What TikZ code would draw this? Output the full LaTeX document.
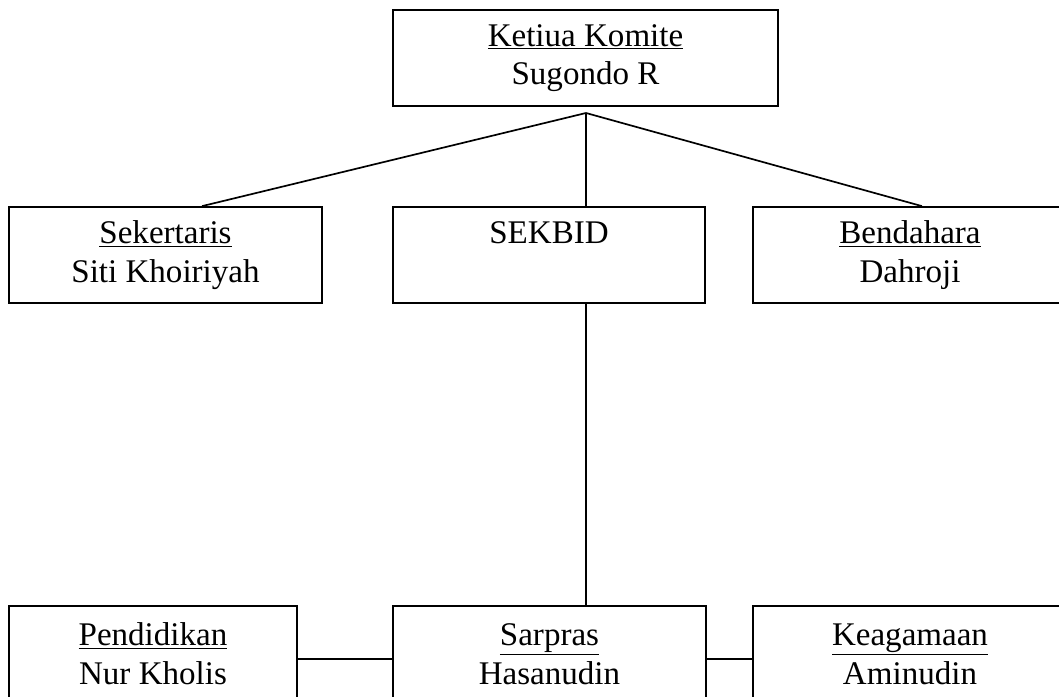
\documentclass[tikz,border=0pt]{standalone}
\usepackage{fontspec}
\setmainfont{Liberation Serif}
\usepackage{tikz}

\tikzset{
  jabatan/.style={draw, line width=1.2pt, rectangle, align=center,
    minimum height=2.4cm, inner sep=0pt,
    font=\fontsize{23.5}{27.5}\selectfont},
  garis/.style={line width=1.2pt}
}

\begin{document}
\begin{tikzpicture}[x=0.025cm, y=-0.025cm]
            \useasboundingbox (0,0) rectangle (1059,697);
            \clip (0,0) rectangle (1059,697);
            % pengurus inti
            \node[jabatan, minimum width=9.625cm] (ketua) at (585.5,58) {\underline{Ketiua Komite}\\Sugondo R};
            \node[jabatan, minimum width=7.825cm] (sekretaris) at (165.5,255) {\underline{Sekertaris}\\Siti Khoiriyah};
            \node[jabatan, minimum width=7.8cm] (sekbid) at (549,255) {SEKBID\\\phantom{Sg}};
            \node[jabatan, minimum width=7.85cm] (bendahara) at (910,255) {\underline{Bendahara}\\Dahroji};
            % seksi bidang
            \node[jabatan, minimum width=7.2cm] (pendidikan) at (153,654) {\underline{Pendidikan}\\Nur Kholis};
            \node[jabatan, minimum width=7.825cm] (sarpras) at (549.5,654) {\underline{Sarpras}\\Hasanudin};
            \node[jabatan, minimum width=7.85cm] (keagamaan) at (910,654) {\underline{Keagamaan}\\Aminudin};
            % garis
            \coordinate (cabang) at (586,113);
            \draw[garis] (cabang) -- (sekretaris.north -| 202,0);
            \draw[garis] (cabang) -- (sekbid.north -| cabang);
            \draw[garis] (cabang) -- (bendahara.north -| 922,0);
            \draw[garis] (sekbid.south -| cabang) -- (sarpras.north -| cabang);
            \draw[garis] ([yshift=-0.125cm]pendidikan.east) -- ([yshift=-0.125cm]sarpras.west);
            \draw[garis] ([yshift=-0.125cm]sarpras.east) -- ([yshift=-0.125cm]keagamaan.west);
        \end{tikzpicture}
\end{document}
